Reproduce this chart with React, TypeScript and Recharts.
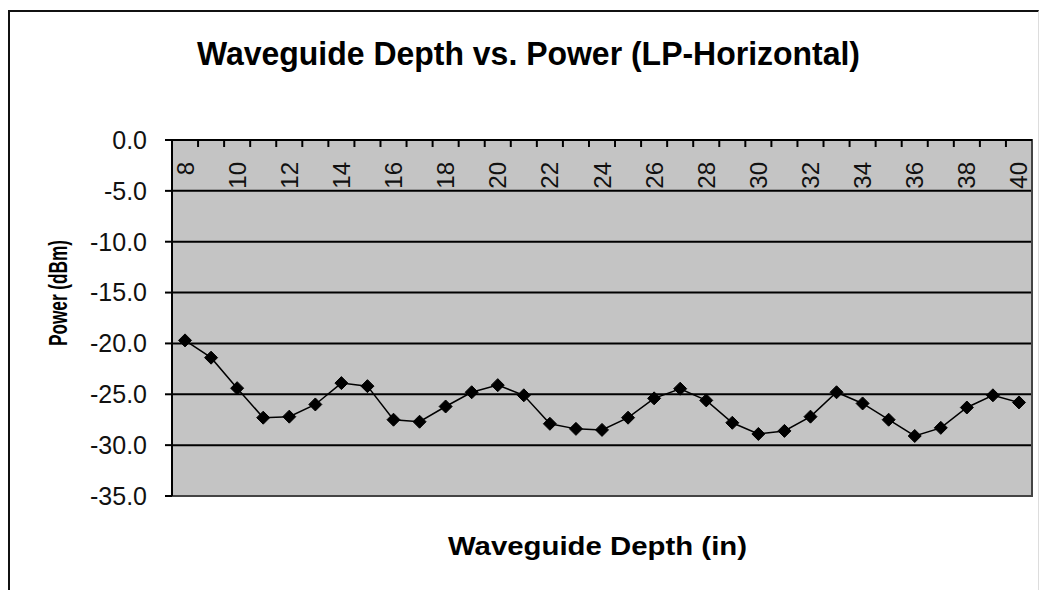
import React from 'react';
import { LineChart, Line, XAxis, YAxis, CartesianGrid, ReferenceArea } from 'recharts';

const depths = [8, 9, 10, 11, 12, 13, 14, 15, 16, 17, 18, 19, 20, 21, 22, 23, 24, 25, 26, 27, 28, 29, 30, 31, 32, 33, 34, 35, 36, 37, 38, 39, 40];
const power = [-19.7, -21.4, -24.4, -27.3, -27.2, -26.0, -23.9, -24.2, -27.5, -27.7, -26.2, -24.8, -24.1, -25.1, -27.9, -28.4, -28.5, -27.3, -25.4, -24.45, -25.6, -27.8, -28.9, -28.6, -27.2, -24.8, -25.9, -27.5, -29.1, -28.3, -26.3, -25.1, -25.8];
const xLabelTicks = [8, 10, 12, 14, 16, 18, 20, 22, 24, 26, 28, 30, 32, 34, 36, 38, 40];
const xBoundaryTicks = [8.5, 9.5, 10.5, 11.5, 12.5, 13.5, 14.5, 15.5, 16.5, 17.5, 18.5, 19.5, 20.5, 21.5, 22.5, 23.5, 24.5, 25.5, 26.5, 27.5, 28.5, 29.5, 30.5, 31.5, 32.5, 33.5, 34.5, 35.5, 36.5, 37.5, 38.5, 39.5];
const yTicks = [-35, -30, -25, -20, -15, -10, -5, 0];
const xDomain = [7.5, 40.5];
const yDomain = [-35, 0];

const title = 'Waveguide Depth vs. Power (LP-Horizontal)';
const xTitle = 'Waveguide Depth (in)';
const yTitle = 'Power (dBm)';

const data = depths.map((d, i) => ({ depth: d, power: power[i] }));
const allXTicks = [...xLabelTicks, ...xBoundaryTicks].sort((a, b) => a - b);

const FONT = '"Liberation Sans", Arial, sans-serif';

const XTick = (props: any) => {
  const { x, y, payload } = props;
  const v = payload.value;
  if (Number.isInteger(v)) {
    return (
      <text
        x={x}
        y={y + 22}
        transform={`rotate(-90, ${x}, ${y + 22})`}
        textAnchor="end"
        dominantBaseline="central"
        fontSize={24}
        fontFamily={FONT}
        fill="#111"
      >
        {v}
      </text>
    );
  }
  return <line x1={x} x2={x} y1={y} y2={y + 7} stroke="#000" strokeWidth={2} />;
};

const Diamond = (props: any) => {
  const { cx, cy, index } = props;
  if (cx == null || cy == null) return null;
  const s = 6.5;
  return (
    <polygon
      key={`d-${index}`}
      points={`${cx},${cy - s} ${cx + s},${cy} ${cx},${cy + s} ${cx - s},${cy}`}
      fill="#000"
      stroke="#000"
      strokeWidth={1}
    />
  );
};

export default function App() {
  return (
    <div
      style={{
        position: 'absolute',
        left: 0,
        top: 0,
        width: 1042,
        height: 590,
        background: '#fff',
        overflow: 'hidden',
      }}
    >
      <div
        style={{
          position: 'absolute',
          left: 8,
          top: 10,
          width: 1031,
          height: 590,
          borderLeft: '2px solid #111',
          borderTop: '2px solid #111',
          borderRight: '1px solid #ddd',
          boxSizing: 'border-box',
        }}
      />
      <div style={{ position: 'absolute', left: 0, top: 0 }}>
        <LineChart
          width={1042}
          height={590}
          data={data}
          margin={{ top: 120, right: 10, bottom: 94, left: 92 }}
        >
          <CartesianGrid vertical={false} stroke="#000" strokeWidth={2} fill="#c4c4c4" fillOpacity={1} />
          <ReferenceArea
            x1={xDomain[0]}
            x2={xDomain[1]}
            y1={yDomain[0]}
            y2={yDomain[1]}
            fill="none"
            stroke="#444"
            strokeWidth={2}
          />
          <XAxis
            dataKey="depth"
            type="number"
            orientation="top"
            domain={xDomain}
            ticks={allXTicks}
            interval={0}
            height={20}
            tickSize={0}
            tickMargin={0}
            tickLine={false}
            axisLine={{ stroke: '#000', strokeWidth: 2 }}
            tick={(p: any) => <XTick {...p} />}
          />
          <YAxis
            type="number"
            domain={yDomain}
            ticks={yTicks}
            width={80}
            tickSize={7}
            tickMargin={18}
            tickFormatter={(v: number) => v.toFixed(1)}
            axisLine={{ stroke: '#000', strokeWidth: 2 }}
            tickLine={{ stroke: '#000', strokeWidth: 2 }}
            tick={{ fill: '#111', fontSize: 25, fontFamily: FONT }}
          />
          <Line
            type="linear"
            dataKey="power"
            stroke="#000"
            strokeWidth={1.5}
            dot={(p: any) => <Diamond {...p} />}
            activeDot={false}
            isAnimationActive={false}
          />
        </LineChart>
      </div>
      <svg
        width={1042}
        height={590}
        style={{ position: 'absolute', left: 0, top: 0, pointerEvents: 'none' }}
      >
        <text
          x={197}
          y={65}
          fontSize={34}
          fontWeight="bold"
          fontFamily={FONT}
          textLength={663}
          lengthAdjust="spacingAndGlyphs"
          fill="#000"
        >
          {title}
        </text>
        <text
          x={448}
          y={555}
          fontSize={26}
          fontWeight="bold"
          fontFamily={FONT}
          textLength={299}
          lengthAdjust="spacingAndGlyphs"
          fill="#000"
        >
          {xTitle}
        </text>
        <text
          x={67}
          y={346}
          transform="rotate(-90, 67, 346)"
          fontSize={26}
          fontWeight="bold"
          fontFamily={FONT}
          textLength={106}
          lengthAdjust="spacingAndGlyphs"
          fill="#000"
        >
          {yTitle}
        </text>
      </svg>
    </div>
  );
}
